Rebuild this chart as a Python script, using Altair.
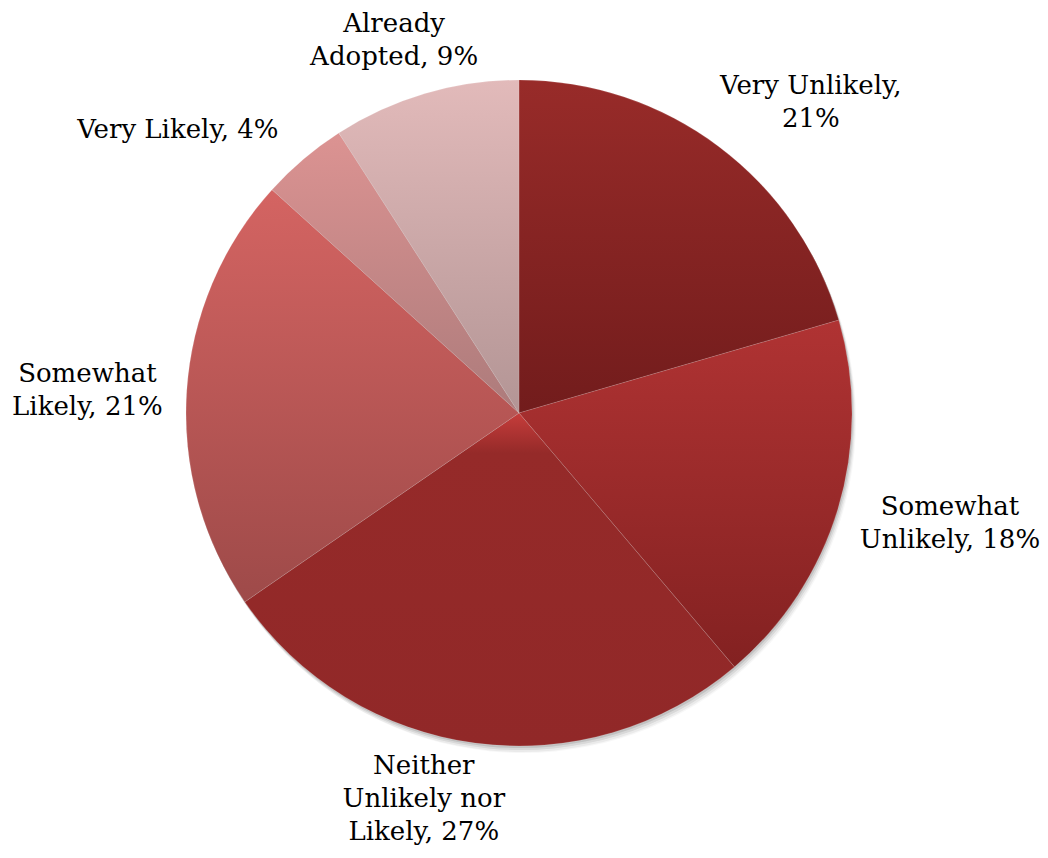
import altair as alt
import pandas as pd

# ---- data ----
categories = [
    "Very Unlikely",
    "Somewhat Unlikely",
    "Neither Unlikely nor Likely",
    "Somewhat Likely",
    "Very Likely",
    "Already Adopted",
]
shares = [20.5, 18.3, 26.6, 21.3, 4.2, 9.1]
# label text as printed (| = line break)
label_text = [
    "Very Unlikely,|21%",
    "Somewhat|Unlikely, 18%",
    "Neither|Unlikely nor|Likely, 27%",
    "Somewhat|Likely, 21%",
    "Very Likely, 4%",
    "Already|Adopted, 9%",
]

# ---- styles ----
grad_stops = [
    [(0, "#982B29"), (1, "#721C1C")],
    [(0, "#B03333"), (1, "#832121")],
    [(0, "#C63D3B"), (0.12, "#952A29"), (1, "#912828")],
    [(0, "#D46462"), (1, "#9E4A49")],
    [(0, "#DC9392"), (1, "#AC7B7B")],
    [(0, "#E2BABA"), (1, "#B39595")],
]


def grad(stops):
    return {
        "gradient": "linear",
        "x1": 0, "y1": 0, "x2": 0, "y2": 1,
        "stops": [{"offset": o, "color": c} for o, c in stops],
    }


# ---- layout ----
W, H = 1022, 810
CX, CY = W / 2, H / 2
R = 333
FONT = "DejaVu Serif"
FS = 26
LH = 33
CW = 13
GAP = 12
# manual label nudges (like dragged data labels), by slice order
NUDGE_X = [36, 14, -42, -14, -69, -13]
NUDGE_Y = [30, -15, -15, 5, 38, 8]

df = pd.DataFrame({
    "idx": list(range(len(categories))),
    "category": categories,
    "share": shares,
    "label": label_text,
})
df["maxchars"] = [max(len(p) for p in s.split("|")) for s in label_text]

color_def = {
    "condition": [
        {"test": f"datum.idx === {i}", "value": grad(grad_stops[i])}
        for i in range(len(categories) - 1)
    ],
    "value": grad(grad_stops[-1]),
}

shadow_df = pd.DataFrame({"s": [1]})
shadows = []
for dx, dy, op in [(1, 2, 0.10), (2, 4, 0.08), (3, 6, 0.05), (4, 7, 0.03)]:
    shadows.append(
        alt.Chart(shadow_df)
        .mark_arc(radius=R, theta=0, theta2=6.2832, color="#000000", opacity=op)
        .encode(x=alt.value(CX + dx), y=alt.value(CY + dy))
    )

pie = (
    alt.Chart(df)
    .mark_arc(radius=R, stroke="#ffffff", strokeWidth=0.7, strokeOpacity=0.2)
    .encode(
        theta=alt.Theta("share:Q", stack=True),
        order=alt.Order("idx:Q", sort="ascending"),
        detail="category:N",
        color=color_def,
    )
)

labels = (
    alt.Chart(df)
    .transform_joinaggregate(total="sum(share)")
    .transform_window(cum="sum(share)", sort=[alt.SortField("idx")], frame=[None, 0])
    .transform_calculate(
        lines="split(datum.label, '|')",
        mid="(datum.cum - datum.share / 2) / datum.total * 2 * PI",
    )
    .transform_calculate(
        ext=f"abs(sin(datum.mid)) * datum.maxchars * {CW} / 2 + abs(cos(datum.mid)) * length(datum.lines) * {LH} / 2",
    )
    .transform_calculate(lr=f"{R} + {GAP} + datum.ext")
    .transform_calculate(
        lx=f"{CX} + datum.lr * sin(datum.mid) + {NUDGE_X}[datum.idx]",
        # first line sits at y: shift up so the block is centred
        ly=f"{CY} - datum.lr * cos(datum.mid) + {NUDGE_Y}[datum.idx] - (length(datum.lines) - 1) * {LH} / 2",
    )
    .mark_text(font=FONT, fontSize=FS, lineHeight=LH, align="center", baseline="middle", color="#000000")
    .encode(
        x=alt.X("lx:Q", scale=None),
        y=alt.Y("ly:Q", scale=None),
        text=alt.Text("lines:N"),
    )
)

chart = (
    alt.layer(*shadows, pie, labels)
    .properties(
        width=W,
        height=H,
        autosize="none",
        padding={"left": 0, "top": 0, "right": 10, "bottom": 30},
        background="#ffffff",
    )
    .configure_view(stroke=None)
)

chart.save("out.html", embed_options={"renderer": "svg", "actions": False})
